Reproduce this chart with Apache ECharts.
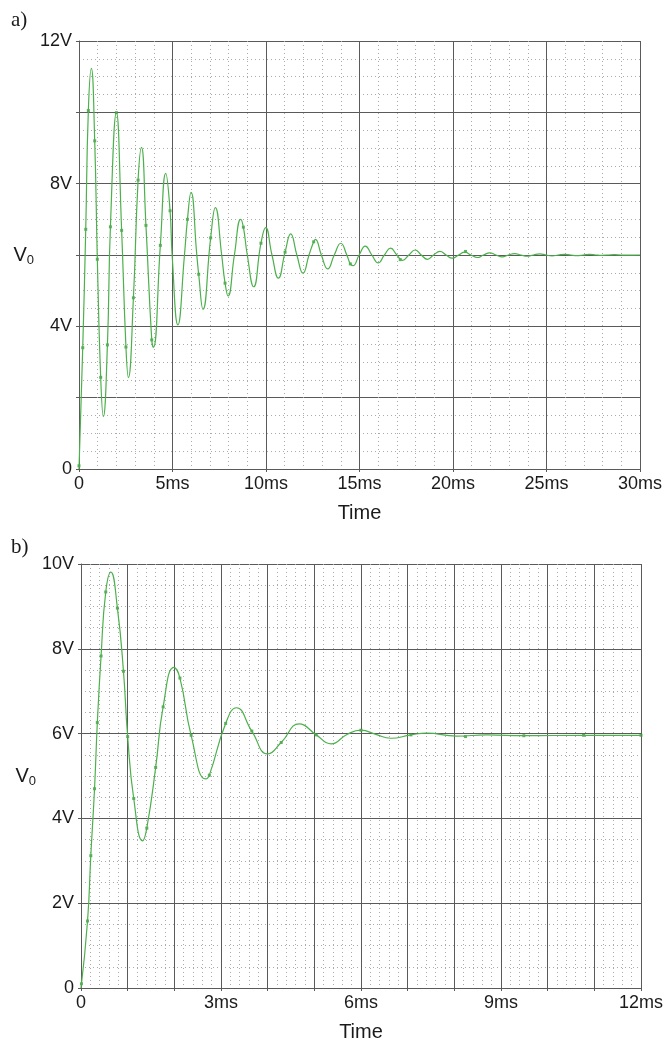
<!DOCTYPE html>
<html>
	<head>
		<meta charset="UTF-8">
		<title></title>
		<script src="https://cdn.jsdelivr.net/npm/echarts@6/dist/echarts.min.js"></script>
		<style>
			body{margin:0;background:#fff;}
		</style>
	</head>
	<body>
		<div id="chart" style="width: 666px;height: 1043px;"></div>
		<script type="text/javascript">
			// a) 0..30ms (ms, V)
			var aTime = [0,0.2,0.36,0.5,0.66,0.84,0.98,1.16,1.3,1.52,1.68,2.0,2.28,2.51,2.64,2.91,3.16,3.34,3.58,3.89,3.98,4.35,4.64,4.87,4.98,5.29,5.64,5.8,5.99,6.3,6.4,6.63,7.04,7.29,7.63,7.81,7.97,8.31,8.65,8.79,9.0,9.34,9.73,9.98,10.32,10.66,11.02,11.32,11.65,11.98,12.3,12.55,12.64,12.96,13.3,13.65,14.0,14.32,14.51,14.65,14.98,15.31,15.66,16.0,16.33,16.66,17.0,17.3,17.64,17.97,18.3,18.63,18.96,19.3,19.63,19.96,20.3,20.63,20.96,21.3,21.63,21.96,22.3,22.63,22.96,23.3,23.63,23.96,24.3,24.64,24.97,25.3,25.63,25.96,26.3,26.63,26.96,27.3,27.63,27.96,28.3,28.63,28.96,29.3,30];
			var aVolt = [0,3.4,6.72,10.05,11.23,9.2,5.88,2.57,1.47,3.48,6.79,9.99,6.69,3.42,2.56,4.8,8.1,9.02,6.83,3.62,3.41,6.27,8.29,7.24,6.0,4.04,6.0,7.0,7.76,6.0,5.46,4.48,6.48,7.33,6.0,5.21,4.85,6.0,7.0,6.78,6.0,5.11,6.33,6.77,6.0,5.35,6.08,6.59,6.0,5.49,6.0,6.37,6.44,6.0,5.61,6.0,6.33,6.0,5.75,5.7,6.0,6.25,6.0,5.78,6.0,6.19,6.0,5.85,6.0,6.14,6.0,5.88,6.0,6.1,6.0,5.91,6.0,6.08,6.0,5.93,6.0,6.06,6.0,5.95,6.0,6.04,6.0,5.965,6.0,6.03,6.0,5.975,6.0,6.02,6.0,5.985,6.0,6.015,6.0,5.99,6.0,6.01,6.0,5.995,6.0];
			var aMarkT = [0,0.2,0.36,0.5,0.84,0.98,1.16,1.52,1.68,2.0,2.28,2.51,2.91,3.16,3.58,3.89,4.35,4.87,5.8,6.4,7.04,7.81,8.79,9.73,11.02,12.55,14.51,17.18,20.67];
			var aMarkV = [0.09,3.4,6.72,10.05,9.2,5.88,2.57,3.48,6.79,9.99,6.69,3.42,4.8,8.1,6.83,3.62,6.27,7.24,7.0,5.46,6.48,5.21,6.78,6.33,6.08,6.37,5.75,5.87,6.1];
			var aXTicks = [0,5,10,15,20,25,30];
			var aXLabels = ['0','5ms','10ms','15ms','20ms','25ms','30ms'];
			var aYTicks = [0,4,8,12];
			var aYLabels = ['0','4V','8V','12V'];

			// b) 0..12ms
			var bTime = [0,0.14,0.21,0.29,0.35,0.43,0.53,0.64,0.78,0.91,1.0,1.13,1.32,1.41,1.6,1.76,1.99,2.12,2.36,2.67,2.75,3.1,3.33,3.66,4.0,4.29,4.68,5.04,5.36,5.7,6.0,6.32,6.64,7.07,7.4,8.05,8.7,9.49,10.77,12];
			var bVolt = [0,1.58,3.12,4.7,6.26,7.83,9.34,9.81,8.96,7.47,5.93,4.47,3.47,3.77,5.2,6.63,7.56,7.31,5.96,4.93,5.02,6.24,6.61,6.06,5.52,5.79,6.23,5.97,5.76,5.98,6.08,5.98,5.89,5.97,6.01,5.94,5.97,5.95,5.96,5.96];
			var bMarkT = [0.01,0.14,0.21,0.29,0.35,0.43,0.53,0.78,0.91,1.0,1.13,1.41,1.6,1.76,2.12,2.36,2.75,3.1,3.66,4.29,5.04,6.0,7.07,8.24,9.49,10.77,12];
			var bMarkV = [0.1,1.58,3.12,4.7,6.26,7.83,9.34,8.96,7.47,5.93,4.47,3.77,5.2,6.63,7.31,5.96,5.02,6.24,6.06,5.79,5.97,6.08,5.97,5.93,5.95,5.96,5.96];
			var bXTicks = [0,3,6,9,12];
			var bXLabels = ['0','3ms','6ms','9ms','12ms'];
			var bYTicks = [0,2,4,6,8,10];
			var bYLabels = ['0','2V','4V','6V','8V','10V'];

			function pairs(xs, ys){
				var out = [];
				for (var i=0;i<xs.length;i++) {
					out.push([xs[i], ys[i]]);
				}
				return out;
			}
			function labeler(ticks, labels){
				return function(v){
					var i = ticks.indexOf(Math.round(v*1000)/1000);
					return i < 0 ? '' : labels[i];
				};
			}

			var green = '#4cb04c';
			var font = 'Liberation Sans';
			var major = {show:true, lineStyle:{color:'#5a5a5a', width:1}};
			var minor = {show:true, lineStyle:{color:'#ababab', width:1, type:[1,3]}};

			function xAxis(idx, max, interval, minorN, ticks, labels){
				return {
					type:'value', gridIndex:idx, min:0, max:max, interval:interval,
					name:'Time', nameLocation:'middle', nameGap:34,
					nameTextStyle:{fontFamily:font, fontSize:20, color:'#1a1a1a'},
					axisLine:{lineStyle:{color:'#5a5a5a'}},
					axisTick:{show:true, length:3, lineStyle:{color:'#5a5a5a'}},
					axisLabel:{fontFamily:font, fontSize:18, color:'#1a1a1a', margin:6, formatter:labeler(ticks, labels)},
					splitLine:major,
					minorTick:{show:false, splitNumber:minorN},
					minorSplitLine:minor
				};
			}
			function yAxis(idx, max, ticks, labels){
				return {
					type:'value', gridIndex:idx, min:0, max:max, interval:2,
					name:'{v|V}{s|0}', nameLocation:'middle', nameGap:29, nameRotate:0,
					nameTextStyle:{rich:{v:{fontFamily:font, fontSize:20, color:'#1a1a1a'}, s:{fontFamily:font, fontSize:13, color:'#1a1a1a', verticalAlign:'bottom', padding:[10,0,0,0]}}},
					axisLine:{show:true, lineStyle:{color:'#5a5a5a'}},
					axisTick:{show:true, length:3, lineStyle:{color:'#5a5a5a'}},
					axisLabel:{fontFamily:font, fontSize:18, color:'#1a1a1a', margin:7, formatter:labeler(ticks, labels)},
					splitLine:major,
					minorTick:{show:false, splitNumber:4},
					minorSplitLine:minor
				};
			}

			var myChart = echarts.init(document.getElementById('chart'));
			var option = {
				animation:false,
				backgroundColor:'#fff',
				graphic:[
					{type:'text', left:11, top:10, style:{text:'a)', font:"21px 'Liberation Serif'", fill:'#1a1a1a'}},
					{type:'text', left:11, top:537, style:{text:'b)', font:"21px 'Liberation Serif'", fill:'#1a1a1a'}}
				],
				grid:[
					{left:79, right:26, top:41, height:428},
					{left:81, right:25, top:564, height:428}
				],
				xAxis:[
					xAxis(0, 30, 5, 5, aXTicks, aXLabels),
					xAxis(1, 12, 1, 5, bXTicks, bXLabels)
				],
				yAxis:[
					yAxis(0, 12, aYTicks, aYLabels),
					yAxis(1, 10, bYTicks, bYLabels)
				],
				series:[
					{type:'line', xAxisIndex:0, yAxisIndex:0, data:pairs(aTime, aVolt), smooth:0.5, showSymbol:false, lineStyle:{color:green, width:1.2}},
					{type:'scatter', xAxisIndex:0, yAxisIndex:0, data:pairs(aMarkT, aMarkV), symbol:'rect', symbolSize:3, itemStyle:{color:'#3a9e3a'}},
					{type:'line', xAxisIndex:1, yAxisIndex:1, data:pairs(bTime, bVolt), smooth:0.5, showSymbol:false, lineStyle:{color:green, width:1.2}},
					{type:'scatter', xAxisIndex:1, yAxisIndex:1, data:pairs(bMarkT, bMarkV), symbol:'rect', symbolSize:3, itemStyle:{color:'#3a9e3a'}}
				]
			};
			myChart.setOption(option);
		</script>
	</body>
</html>
